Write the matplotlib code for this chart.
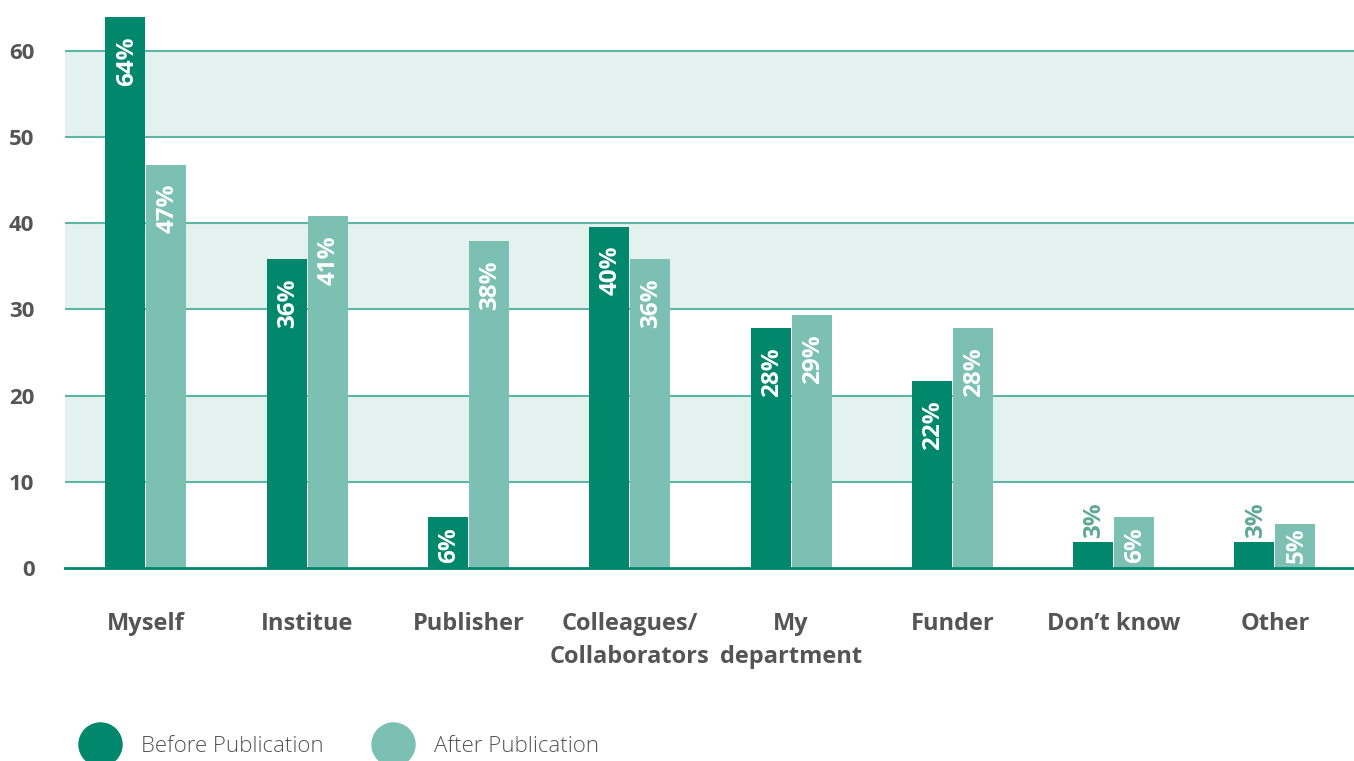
import matplotlib
matplotlib.use("Agg")
import matplotlib.pyplot as plt
from matplotlib.lines import Line2D
import numpy as np

categories = ["Myself", "Institue", "Publisher", "Colleagues/\nCollaborators",
              "My\ndepartment", "Funder", "Don\u2019t know", "Other"]
before = [63.9, 35.8, 5.9, 39.6, 27.8, 21.7, 3.0, 3.0]
after = [46.8, 40.8, 37.9, 35.8, 29.3, 27.8, 5.9, 5.1]
yticks = [0, 10, 20, 30, 40, 50, 60]
series_names = ["Before Publication", "After Publication"]

DARK = "#00876C"
LIGHT = "#7BC0B3"
BAND = "#E3F2EF"
GRID = "#5DB5A5"
GRAY = "#555555"
SMALL_LABEL = "#5FA892"

plt.rcParams['font.family'] = ['Open Sans', 'DejaVu Sans']

fig = plt.figure(figsize=(13.54, 7.61), dpi=100)
ax = fig.add_axes([65/1354, 1 - 568/761, 1 - 65/1354, 568/761])

x = np.arange(len(categories))
w = 0.248
off = 0.127

ax.set_xlim(-0.502, 7.49)
ax.set_ylim(0, 65.9)

for lo in (10, 30, 50):
    ax.axhspan(lo, lo + 10, color=BAND, zorder=0, lw=0)
for t in yticks[1:]:
    ax.axhline(t, color=GRID, lw=1.5, zorder=1)
ax.axhline(0, color=DARK, lw=2, zorder=3, clip_on=False)

b1 = ax.bar(x - off, before, w, color=DARK, zorder=2, label=series_names[0])
b2 = ax.bar(x + off, after, w, color=LIGHT, zorder=2, label=series_names[1])

px = 65.9 / 568.0  # data units per pixel
for xs, vals in ((x - off, before), (x + off, after)):
    for xi, v in zip(xs, vals):
        lab = f"{round(v)}%"
        kw = dict(rotation=90, ha='center', fontsize=17.5, fontweight='bold', zorder=4)
        if v >= 10:
            ax.text(xi + 0.008, v - 19 * px, lab, va='top', color='white', **kw)
        elif v >= 5:
            ax.text(xi + 0.008, 5 * px, lab, va='bottom', color='white', **kw)
        else:
            ax.text(xi + 0.008, v + 4 * px, lab, va='bottom', color=SMALL_LABEL, **kw)

for s in ax.spines.values():
    s.set_visible(False)

ax.set_yticks(yticks)
ax.set_yticklabels([str(t) for t in yticks], fontsize=16, fontweight='bold', color=GRAY)
ax.set_xticks(x)
ax.set_xticklabels(categories, fontsize=17, fontweight='bold', color=GRAY, linespacing=1.45, va='top')
ax.tick_params(axis='y', length=0, pad=22)
ax.tick_params(axis='x', length=0, pad=32)

# legend
for cx, tx, col, name in ((100, 141, DARK, series_names[0]), (393, 434, LIGHT, series_names[1])):
    fig.add_artist(Line2D([cx / 1354], [1 - 744 / 761], marker='o', markersize=32,
                          color=col, markeredgewidth=0, transform=fig.transFigure))
    fig.text(tx / 1354, 1 - 747 / 761, name, fontsize=16, fontweight='light',
             color=GRAY, ha='left', va='center')

fig.savefig("out.png", dpi=100)
